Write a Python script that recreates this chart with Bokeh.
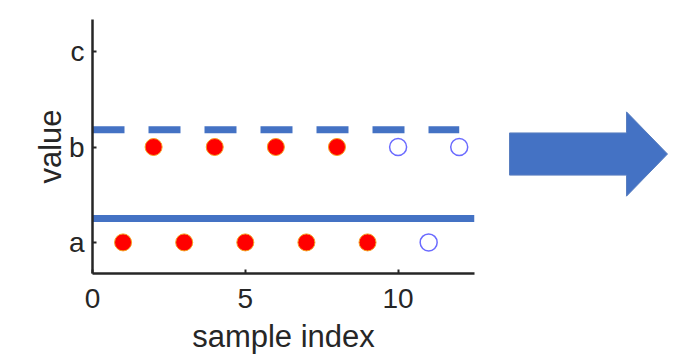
from bokeh.plotting import figure
from bokeh.layouts import row
from bokeh.models import FixedTicker, Range1d
from bokeh.embed import file_html
from bokeh.resources import INLINE

# ---- data ----
categories = ["a", "b", "c"]
cat_pos = [1, 2, 3]

a_filled_x = [1, 3, 5, 7, 9]
a_open_x = [11]
b_filled_x = [2, 4, 6, 8]
b_open_x = [10, 12]

solid_level = 1.25
solid_span = [0, 12.5]
dashed_level = 2.18
dashed_span = [0, 12]

x_ticks = [0, 5, 10]

# decorative arrow outline (in page-pixel units of the arrow panel)
arrow_x = [509, 626, 626, 667, 626, 626, 509]
arrow_y = [133, 133, 112, 154, 196, 175, 175]

FONT = "Liberation Sans"
TXT = "#262626"
BLUE = "#4472C4"

W1, H = 488, 356
p = figure(width=W1, height=H, x_range=Range1d(0, 12.5), y_range=Range1d(0.674, 3.337),
           output_backend="svg", toolbar_location=None,
           min_border_left=92, min_border_right=14, min_border_top=19, min_border_bottom=H - 19 - 254)
p.outline_line_color = None
p.xgrid.visible = False
p.ygrid.visible = False
p.background_fill_color = None
p.border_fill_color = None

# lines
p.line(solid_span, [solid_level, solid_level], line_color=BLUE, line_width=7)
p.line(dashed_span, [dashed_level, dashed_level], line_color=BLUE, line_width=7, line_dash="32 24")

# points
p.scatter(a_filled_x, [cat_pos[0]] * len(a_filled_x), size=17, fill_color="#ff0000",
          line_color="#f5a020", line_width=1)
p.scatter(b_filled_x, [cat_pos[1]] * len(b_filled_x), size=17, fill_color="#ff0000",
          line_color="#f5a020", line_width=1)
p.scatter(a_open_x, [cat_pos[0]] * len(a_open_x), size=17, fill_color=None,
          line_color="#6b6bff", line_width=1.5)
p.scatter(b_open_x, [cat_pos[1]] * len(b_open_x), size=17, fill_color=None,
          line_color="#6b6bff", line_width=1.5)

for ax in (p.xaxis[0], p.yaxis[0]):
    ax.axis_line_color = TXT
    ax.axis_line_width = 2.5
    ax.major_tick_line_color = TXT
    ax.major_tick_line_width = 2
    ax.major_tick_in = 4
    ax.major_tick_out = 0
    ax.minor_tick_line_color = None
    ax.major_label_text_font = FONT
    ax.major_label_text_font_size = "28px"
    ax.major_label_text_color = TXT
    ax.axis_label_text_font = FONT
    ax.axis_label_text_font_size = "31px"
    ax.axis_label_text_font_style = "normal"
    ax.axis_label_text_color = TXT

p.xaxis.ticker = FixedTicker(ticks=x_ticks)
p.xaxis.axis_label = "sample index"
p.xaxis.major_label_standoff = 15
p.xaxis.axis_label_standoff = 8

p.yaxis.ticker = FixedTicker(ticks=cat_pos)
p.yaxis.major_label_overrides = {v: c for v, c in zip(cat_pos, categories)}
p.yaxis.axis_label = "value"
p.yaxis.major_label_standoff = 8
p.yaxis.axis_label_standoff = -2

# arrow panel (frame is aligned with the main plot's frame: page y 20..273)
W2 = 681 - W1
q = figure(width=W2, height=H, x_range=Range1d(W1, W1 + W2), y_range=Range1d(273, 20),
           output_backend="svg", toolbar_location=None,
           min_border=0)
q.axis.visible = False
q.grid.visible = False
q.outline_line_color = None
q.background_fill_color = None
q.border_fill_color = None
q.patch(arrow_x, arrow_y, fill_color=BLUE, line_color="#5a7fc0", line_width=1)

layout = row(p, q)
open("out.html", "w").write(file_html(layout, INLINE))
